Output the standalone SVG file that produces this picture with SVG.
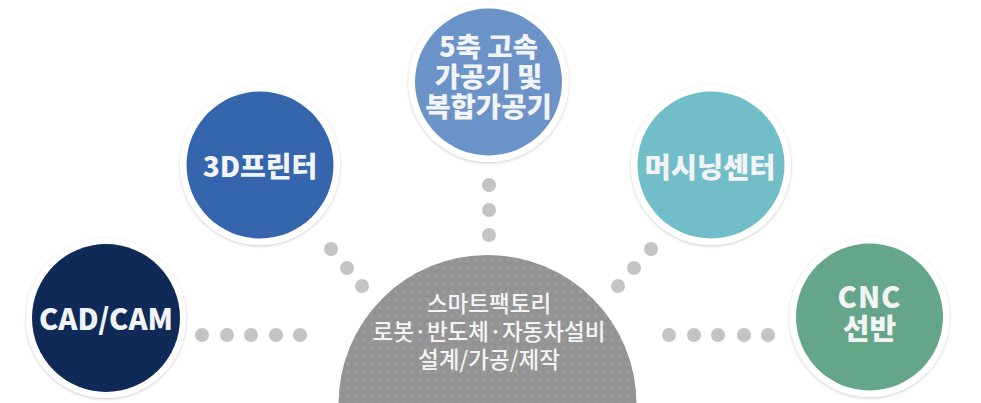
<svg xmlns="http://www.w3.org/2000/svg" width="981" height="403" viewBox="0 0 981 403">
  <defs>
    <filter id="sh" x="-20%" y="-20%" width="140%" height="140%">
      <feDropShadow dx="0" dy="1" stdDeviation="1.8" flood-color="#000" flood-opacity="0.22"/>
    </filter>
    <pattern id="tex" width="8" height="8" patternUnits="userSpaceOnUse">
      <rect width="8" height="8" fill="#939393"/>
      <circle cx="4" cy="4" r="2" fill="#9b9b9b"/>
    </pattern>
  </defs>
  <style>
    .ring { fill: #ffffff; filter: url(#sh); }
    .lbl { font-family: "Noto Sans CJK KR", "Noto Sans", sans-serif; font-weight: 900; fill: #f2f3f5; text-anchor: middle; }
    .ctr { font-family: "Noto Sans CJK KR", "Noto Sans", sans-serif; font-weight: 500; fill: #f4f4f4; text-anchor: middle; font-size: 22.5px; }
    .dot { fill: #c4c4c4; }
  </style>
  <rect width="981" height="403" fill="#ffffff"/>

  <g id="connectors">
    <circle class="dot" cx="489" cy="185" r="7"/>
    <circle class="dot" cx="489" cy="210" r="7"/>
    <circle class="dot" cx="489" cy="235" r="7"/>
    <circle class="dot" cx="331" cy="249" r="7"/>
    <circle class="dot" cx="347" cy="268" r="7"/>
    <circle class="dot" cx="362" cy="286" r="7"/>
    <circle class="dot" cx="651" cy="249" r="7"/>
    <circle class="dot" cx="634" cy="268" r="7"/>
    <circle class="dot" cx="618" cy="286" r="7"/>
    <circle class="dot" cx="202" cy="335" r="7"/>
    <circle class="dot" cx="227" cy="335" r="7"/>
    <circle class="dot" cx="251" cy="335" r="7"/>
    <circle class="dot" cx="276" cy="335" r="7"/>
    <circle class="dot" cx="300" cy="335" r="7"/>
    <circle class="dot" cx="669" cy="335" r="7"/>
    <circle class="dot" cx="694" cy="335" r="7"/>
    <circle class="dot" cx="718" cy="335" r="7"/>
    <circle class="dot" cx="744" cy="335" r="7"/>
    <circle class="dot" cx="768" cy="335" r="7"/>
  </g>

  <g id="center">
    <circle cx="487.5" cy="404" r="149" fill="url(#tex)"/>
    <text class="ctr" x="489" y="312">스마트팩토리</text>
    <text class="ctr" x="489" y="340">로봇·반도체·자동차설비</text>
    <text class="ctr" x="489" y="368">설계/가공/제작</text>
  </g>

  <g id="cadcam">
    <circle class="ring" cx="106" cy="318" r="80"/>
    <circle cx="106" cy="318" r="74" fill="#0f2a57"/>
    <text class="lbl" x="106" y="330" font-size="29">CAD/CAM</text>
  </g>

  <g id="printer3d">
    <circle class="ring" cx="260" cy="165" r="80"/>
    <circle cx="260" cy="165" r="73.5" fill="#3465ad"/>
    <text class="lbl" x="260" y="177" font-size="28">3D프린터</text>
  </g>

  <g id="fiveaxis">
    <circle class="ring" cx="488.5" cy="82" r="80"/>
    <circle cx="488.5" cy="82" r="73.5" fill="#6b93c7"/>
    <text class="lbl" x="488.5" y="57" font-size="27.5">5축 고속</text>
    <text class="lbl" x="488.5" y="87" font-size="27.5">가공기 및</text>
    <text class="lbl" x="488.5" y="117" font-size="27.5">복합가공기</text>
  </g>

  <g id="machining">
    <circle class="ring" cx="711" cy="165" r="80"/>
    <circle cx="711" cy="165" r="73.5" fill="#72bec8"/>
    <text class="lbl" x="710" y="178" font-size="28.5">머시닝센터</text>
  </g>

  <g id="cnc">
    <circle class="ring" cx="869.5" cy="317" r="80"/>
    <circle cx="869.5" cy="317" r="73.5" fill="#65a68b"/>
    <text class="lbl" x="869.5" y="308" font-size="29" letter-spacing="1">CNC</text>
    <text class="lbl" x="869.5" y="340" font-size="29">선반</text>
  </g>
</svg>
